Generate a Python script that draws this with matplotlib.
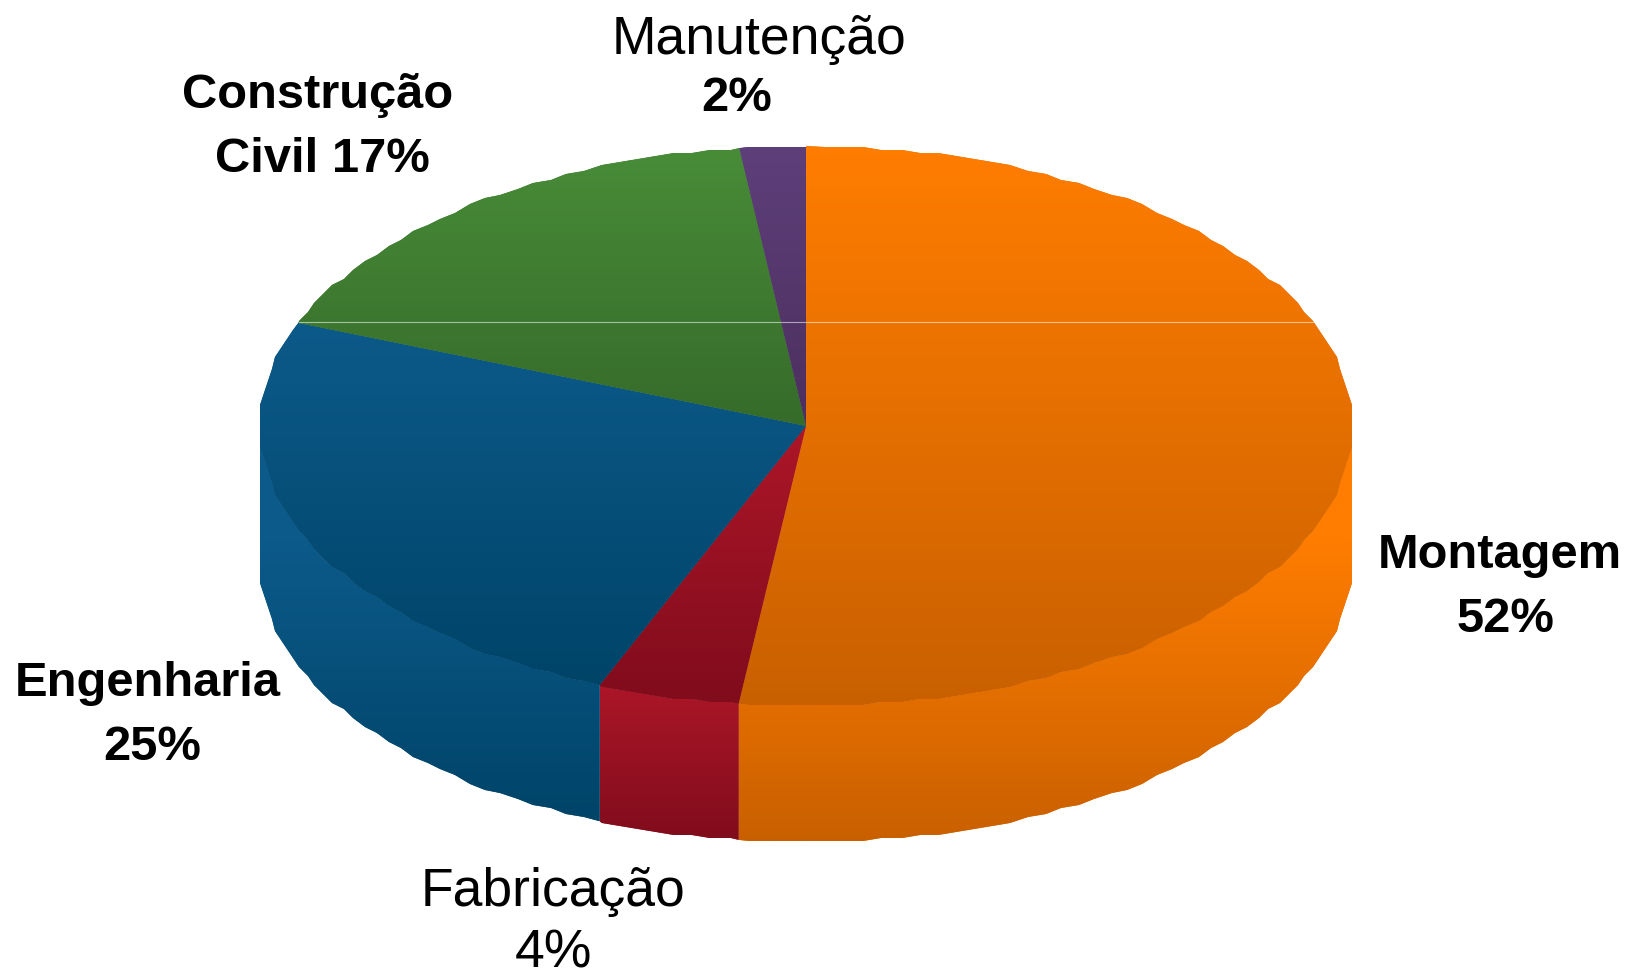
import matplotlib
matplotlib.use('Agg')
import matplotlib.pyplot as plt
import numpy as np
from matplotlib.colors import LinearSegmentedColormap
from matplotlib.patches import Polygon

plt.rcParams['font.family'] = ['Liberation Sans', 'DejaVu Sans']

categories = ['Montagem', 'Fabricação', 'Engenharia', 'Construção\nCivil', 'Manutenção']
values = [51.97, 4.2, 24.83, 17.05, 1.95]
colors_light = ['#FF7D00', '#AC1628', '#0C5A8A', '#488C38', '#5E3F7A']
colors_dark = ['#C96000', '#800C1C', '#004468', '#366B2A', '#4C2F5E']

W, H = 1630, 971
CX, CY, RX, RY = 806, 426, 546, 280
DEPTH = 136 / RY
WALL_START = (CY - 540) / RY  # side walls stay at the light colour above this


def px(x, y):
    return (x - CX) / RX, (CY - y) / RY


def rough_arc(lo, hi):
    # the reference edge is stepped, so snap the arc to a small pixel grid
    inner = np.arange(np.ceil(lo / 2) * 2, hi, 2.0)
    t = np.radians(np.concatenate([[lo], inner, [hi]]))
    x = np.round(np.cos(t) * RX / 3) * 3 / RX
    y = np.round(np.sin(t) * RY / 3) * 3 / RY
    x[[0, -1]] = np.cos(t[[0, -1]])
    y[[0, -1]] = np.sin(t[[0, -1]])
    return np.column_stack([x, y])


def gradient(patch, pts, c1, c2, z, start=None):
    # vertical gradient over the height of the piece, clipped to it
    cmap = LinearSegmentedColormap.from_list('g', [c1, c2])
    x0, x1 = pts[:, 0].min(), pts[:, 0].max()
    y0, y1 = pts[:, 1].min(), pts[:, 1].max()
    y_top = y1 if start is None else min(y1, start)
    yy = np.linspace(y1, y0, 512)
    ramp = np.clip((y_top - yy) / (y_top - y0), 0, 1).reshape(-1, 1)
    im = ax.imshow(ramp, cmap=cmap, vmin=0, vmax=1, extent=(x0, x1, y0, y1),
                   origin='upper', aspect='auto', zorder=z,
                   interpolation='bilinear')
    im.set_clip_path(patch)


fig = plt.figure(figsize=(W / 100, H / 100), dpi=100)
ax = fig.add_axes([0, 0, 1, 1])

wedges, _ = ax.pie(values, startangle=90, counterclock=False, radius=1,
                   colors=colors_dark)

for i, w in enumerate(wedges):
    w.set_visible(False)
    top = np.vstack([[0, 0], rough_arc(w.theta1, w.theta2)])
    mid = LinearSegmentedColormap.from_list('m', [colors_light[i], colors_dark[i]])(0.5)
    face = Polygon(top, closed=True, facecolor=mid, edgecolor='none', zorder=5)
    ax.add_patch(face)
    gradient(face, top, colors_light[i], colors_dark[i], 6)

    # side wall, only the front half can be seen
    lo, hi = max(w.theta1, -180), min(w.theta2, 0)
    if lo < hi:
        upper = rough_arc(lo, hi)
        lower = rough_arc(lo, hi)[::-1]
        lower = np.column_stack([lower[:, 0], lower[:, 1] - DEPTH])
        side = np.vstack([upper, lower])
        wall = Polygon(side, closed=True, facecolor=mid, edgecolor='none', zorder=2)
        ax.add_patch(wall)
        gradient(wall, side, colors_light[i], colors_dark[i], 3, start=WALL_START)

# thin light line across the top face
ly = (CY - 322) / RY
lx = np.sqrt(1 - ly ** 2)
ax.plot([-lx, lx], [ly, ly], color='white', lw=0.8, alpha=0.55, zorder=7)

ax.set_aspect('auto')
ax.set_xlim(-CX / RX, (W - CX) / RX)
ax.set_ylim((CY - H) / RY, CY / RY)
ax.axis('off')


def label(x, y, s, weight):
    size = 35.2 if weight == 'bold' else 38.5
    ax.text(*px(x, y), s, ha='center', va='center', fontsize=size,
            fontweight=weight, color='black', zorder=10)


label(759, 40, categories[4], 'normal')
label(737, 99, '%.0f%%' % values[4], 'bold')
label(318, 96, 'Construção', 'bold')
label(322, 160, 'Civil %.0f%%' % values[3], 'bold')
label(1500, 555, categories[0], 'bold')
label(1505, 620, '%.0f%%' % values[0], 'bold')
label(148, 683, categories[2], 'bold')
label(152, 747, '%.0f%%' % values[2], 'bold')
label(553, 892, categories[1], 'normal')
label(553, 953, '%.0f%%' % values[1], 'normal')

fig.savefig('out.png', dpi=100, facecolor='white')
